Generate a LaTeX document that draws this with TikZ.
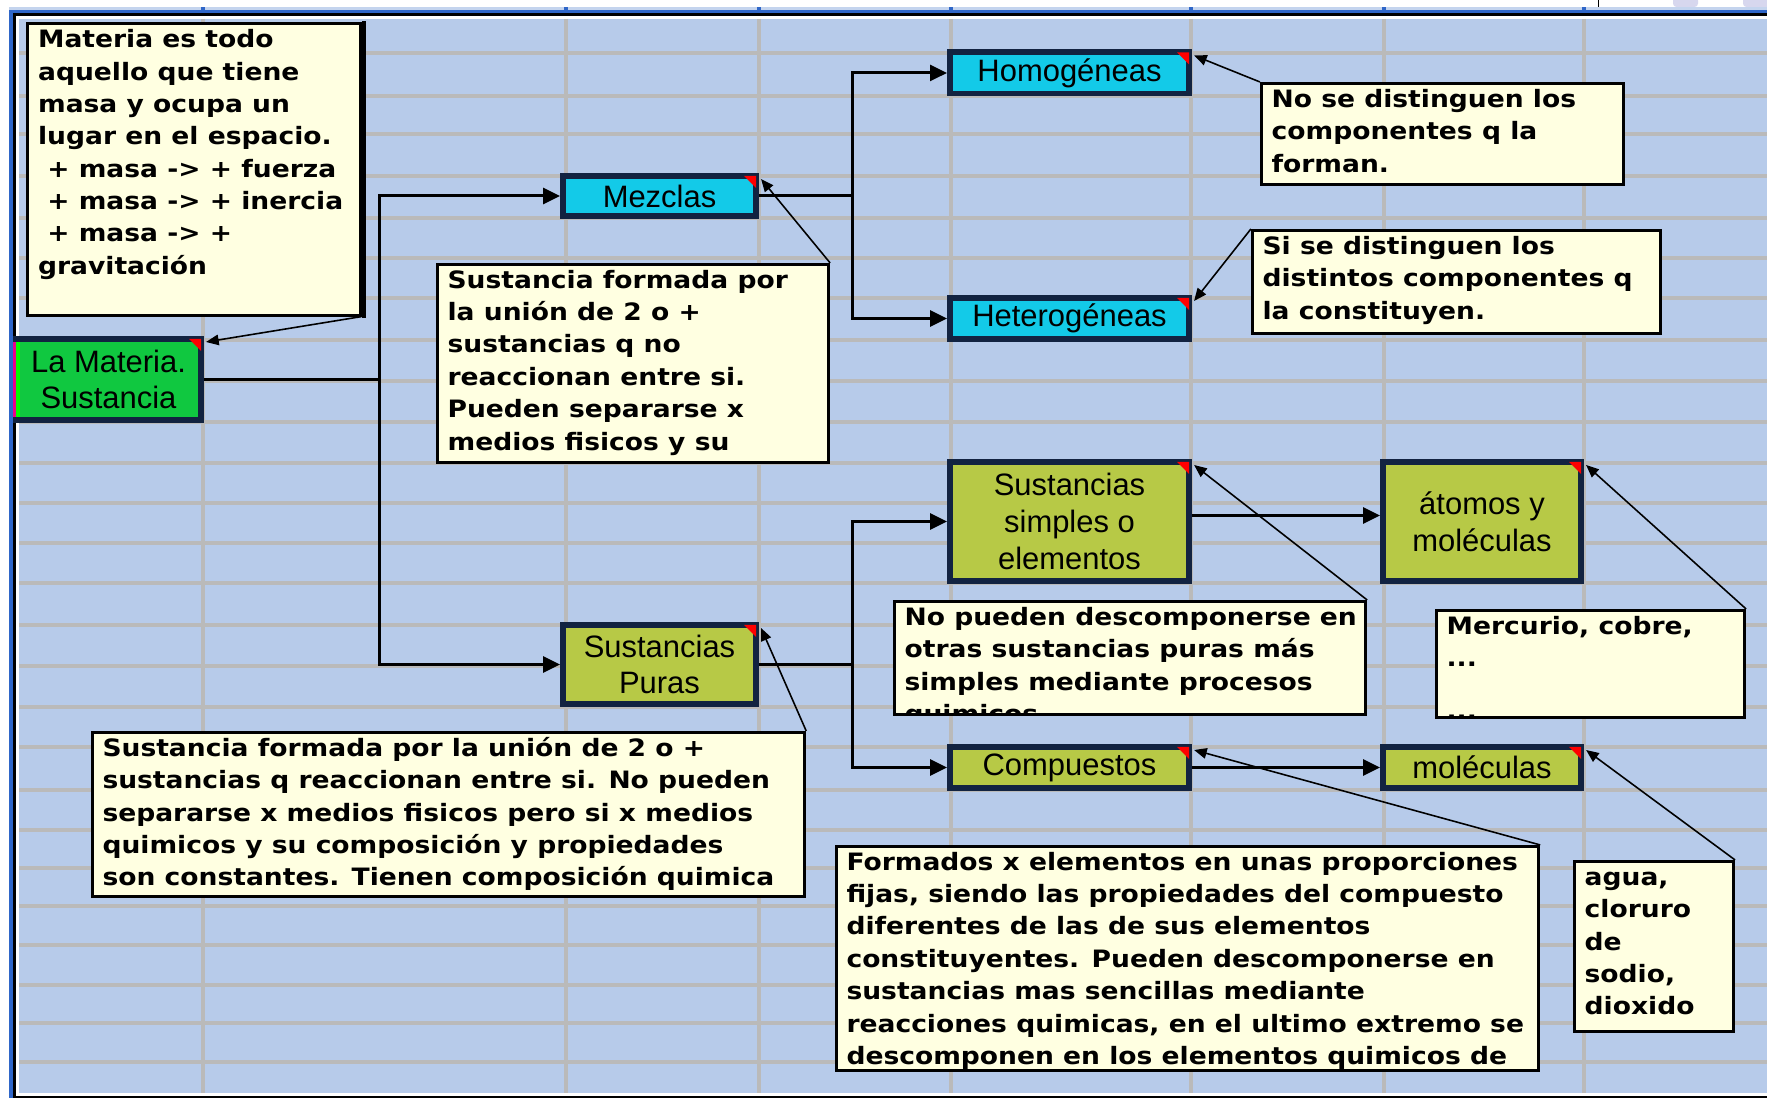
\documentclass[tikz,border=0pt]{standalone}
\usepackage{fontspec}
\newfontfamily\boxfont{Liberation Sans}
\newfontfamily\notefont{DejaVu Sans}[FakeStretch=1.11]
\definecolor{sheet_bg}{RGB}{183,203,234}
\definecolor{sheet_head}{RGB}{196,212,238}
\definecolor{sheet_grid}{RGB}{186,186,186}
\definecolor{sheet_frame}{RGB}{47,102,200}
\definecolor{sheet_tab}{RGB}{215,215,238}
\definecolor{mat_border}{RGB}{18,35,65}
\definecolor{mat_cyan}{RGB}{19,202,232}
\definecolor{mat_green}{RGB}{16,200,64}
\definecolor{mat_olive}{RGB}{183,201,70}
\definecolor{mat_note}{RGB}{255,255,225}
\usetikzlibrary{arrows.meta}

\begin{document}
\begin{tikzpicture}[x=0.01cm, y=-0.01cm,
    box/.style={draw=mat_border, line width=1.7pt, inner sep=0pt, align=center,
                font=\boxfont\fontsize{8.8}{10.4}\selectfont},
    wide/.style={minimum width=2.39cm, minimum height=0.41cm},
    note/.style={draw=black, line width=0.85pt, fill=mat_note, inner sep=0pt},
    notetext/.style={anchor=north west, inner sep=0pt, align=left,
                     font=\notefont\bfseries\fontsize{6.8}{9.2}\selectfont},
    link/.style={line width=0.85pt, -{Triangle[length=4.8pt, width=4.5pt]}},
    pointer/.style={line width=0.45pt, -{Triangle[length=3.6pt, width=3pt]}}]
  \useasboundingbox (0,0) rectangle (1767,1098);
  \fill[white] (0,0) rectangle (1767,1098);
  \fill[sheet_bg] (19,19) rectangle (1767,1093);
  \foreach \gx in {203,566,759,951,1191,1384,1584}
    \draw[sheet_grid, line width=0.95pt] (\gx,19) -- (\gx,1093);
  \foreach \gy in {53,96,134,176,218,258,298,340,381,422,463,503,543,583,
                   625,666,707,747,790,830,868,906,945,985,1023,1062}
    \draw[sheet_grid, line width=0.95pt] (19,\gy) -- (1767,\gy);
  % window frame
  \fill[sheet_head] (9,7) rectangle (1767,10);
  \fill[sheet_frame] (9,10) rectangle (1767,13);
  \fill[sheet_frame] (9,10) rectangle (12.5,1098);
  \fill[black] (12.5,13) rectangle (1767,16.5);
  \fill[black] (12.5,13) rectangle (16,1098);
  \fill[black] (12.5,1096) rectangle (1767,1098);
  \foreach \gx in {203,566,759,951,1191,1384,1584}
    \fill[sheet_frame] (\gx-2,7) rectangle (\gx+2,13);
  \fill[black] (1597.5,0) rectangle (1599,7);
  \fill[sheet_tab, rounded corners=1pt] (1673,-3) rectangle (1698,7);
  \fill[sheet_tab, rounded corners=1pt] (1743,-3) rectangle (1770,7);

  \node[box, fill=mat_green, minimum width=1.85cm, minimum height=0.81cm] (materia)
    at (108.5,379.5) {La Materia.\\Sustancia};
  \node[box, fill=mat_cyan, minimum width=1.93cm, minimum height=0.40cm] (mezclas)
    at (659.5,196) {Mezclas};
  \node[box, fill=mat_cyan, wide] (homog) at (1069.5,73) {Homogéneas};
  \node[box, fill=mat_cyan, wide] (hetero) at (1069.5,318.5) {Heterogéneas};
  \node[box, fill=mat_olive, minimum width=2.39cm, minimum height=1.19cm] (simples)
    at (1069.5,521.5) {Sustancias\\simples o\\elementos};
  \node[box, fill=mat_olive, minimum width=1.98cm, minimum height=1.19cm] (atomos)
    at (1482,521.5) {átomos y\\moléculas};
  \node[box, fill=mat_olive, minimum width=1.93cm, minimum height=0.79cm] (puras)
    at (659.5,664.5) {Sustancias\\Puras};
  \node[box, fill=mat_olive, wide] (compuestos) at (1069.5,767.5) {Compuestos};
  \node[box, fill=mat_olive, minimum width=1.98cm, minimum height=0.41cm] (moleculas)
    at (1482,767.5) {moléculas};
  \fill[magenta] (12.5,342) rectangle (16,417);
  \fill[green] (16,342) rectangle (19.5,417);
  \foreach \n in {materia,mezclas,homog,hetero,simples,atomos,puras,compuestos,moleculas}
    \fill[red] ([shift={(-3,3)}]\n.north east) -- ++(-12,0) -- ++(12,12) -- cycle;

  \coordinate (jmat) at (379,0);
  \coordinate (jmez) at (852,0);
  \draw[link] (materia.east) -- (materia.east -| jmat) |- (mezclas.west);
  \draw[link] (materia.east) -- (materia.east -| jmat) |- (puras.west);
  \draw[link] (mezclas.east) -- (mezclas.east -| jmez) |- (homog.west);
  \draw[link] (mezclas.east) -- (mezclas.east -| jmez) |- (hetero.west);
  \draw[link] (puras.east) -- (puras.east -| jmez) |- (simples.west);
  \draw[link] (puras.east) -- (puras.east -| jmez) |- (compuestos.west);
  \draw[link] ([shift={(0,-6)}]simples.east) -- ([shift={(0,-6)}]atomos.west);
  \draw[link] (compuestos.east) -- (moleculas.west);

  % comments
  \node[note, minimum width=3.32cm, minimum height=2.91cm] (nMateria) at (194,169.5) {};
  \draw[line width=1.1pt] ([shift={(2,-1)}]nMateria.north east) -- ([shift={(2,1)}]nMateria.south east);
  \node[notetext] at ([shift={(11,2)}]nMateria.north west)
    {\strut Materia es todo\\aquello que tiene\\masa y ocupa un\\lugar en el espacio.\\
     \ + masa -> + fuerza\\\ + masa -> + inercia\\\ + masa -> +\\gravitación};
  \node[note, minimum width=3.91cm, minimum height=1.98cm] (nMezclas) at (633,363.5) {};
  \node[notetext] at ([shift={(11,2)}]nMezclas.north west)
    {\strut Sustancia formada por\\la unión de 2 o +\\sustancias q no\\reaccionan entre si.\\
     Pueden separarse x\\medios fisicos y su};
  \node[note, minimum width=3.62cm, minimum height=1.01cm] (nHomog) at (1442.5,134) {};
  \node[notetext] at ([shift={(11,2)}]nHomog.north west)
    {\strut No se distinguen los\\componentes q la\\forman.};
  \node[note, minimum width=4.08cm, minimum height=1.03cm] (nHetero) at (1456.5,282) {};
  \node[notetext] at ([shift={(11,2)}]nHetero.north west)
    {\strut Si se distinguen los\\distintos componentes q\\la constituyen.};
  \node[note, minimum width=4.71cm, minimum height=1.13cm] (nSimples) at (1130,658) {};
  \begin{scope}
    \clip ([shift={(1.5,1.5)}]nSimples.north west) rectangle ([shift={(-1.5,-1.5)}]nSimples.south east);
    \node[notetext] at ([shift={(11,2)}]nSimples.north west)
      {\strut No pueden descomponerse en\\otras sustancias puras más\\simples mediante procesos\\quimicos};
  \end{scope}
  \node[note, minimum width=3.08cm, minimum height=1.07cm] (nMercurio) at (1590.5,664) {};
  \begin{scope}
    \clip ([shift={(1.5,1.5)}]nMercurio.north west) rectangle ([shift={(-1.5,-1.5)}]nMercurio.south east);
    \node[notetext] at ([shift={(11,2)}]nMercurio.north west)
      {\strut Mercurio, cobre,\\...\\[5.7pt]...};
  \end{scope}
  \node[note, minimum width=7.12cm, minimum height=1.64cm] (nPuras) at (448.5,814.5) {};
  \node[notetext] at ([shift={(11,2)}]nPuras.north west)
    {\strut Sustancia formada por la unión de 2 o +\\sustancias q reaccionan entre si. No pueden\\
     separarse x medios fisicos pero si x medios\\quimicos y su composición y propiedades\\
     son constantes. Tienen composición quimica};
  \node[note, minimum width=7.02cm, minimum height=2.24cm] (nFormados) at (1187.5,958.5) {};
  \begin{scope}
    \clip ([shift={(1.5,1.5)}]nFormados.north west) rectangle ([shift={(-1.5,-1.5)}]nFormados.south east);
    \node[notetext] at ([shift={(11,2)}]nFormados.north west)
      {\strut Formados x elementos en unas proporciones\\fijas, siendo las propiedades del compuesto\\
       diferentes de las de sus elementos\\constituyentes. Pueden descomponerse en\\
       sustancias mas sencillas mediante\\reacciones quimicas, en el ultimo extremo se\\
       descomponen en los elementos quimicos de};
  \end{scope}
  \node[note, minimum width=1.59cm, minimum height=1.70cm] (nAgua) at (1654,946.5) {};
  \node[notetext] at ([shift={(11,2)}]nAgua.north west)
    {\strut agua,\\cloruro\\de\\sodio,\\dioxido};

  \draw[pointer] (nMateria.south east) -- ([shift={(2,6)}]materia.north east);
  \draw[pointer] (nMezclas.north east) -- ([shift={(2,6)}]mezclas.north east);
  \draw[pointer] (nHomog.north west) -- ([shift={(2,6)}]homog.north east);
  \draw[pointer] (nHetero.north west) -- ([shift={(2,6)}]hetero.north east);
  \draw[pointer] (nSimples.north east) -- ([shift={(2,6)}]simples.north east);
  \draw[pointer] (nMercurio.north east) -- ([shift={(2,6)}]atomos.north east);
  \draw[pointer] (nPuras.north east) -- ([shift={(2,6)}]puras.north east);
  \draw[pointer] (nFormados.north east) -- ([shift={(2,6)}]compuestos.north east);
  \draw[pointer] (nAgua.north east) -- ([shift={(2,6)}]moleculas.north east);
\end{tikzpicture}
\end{document}
